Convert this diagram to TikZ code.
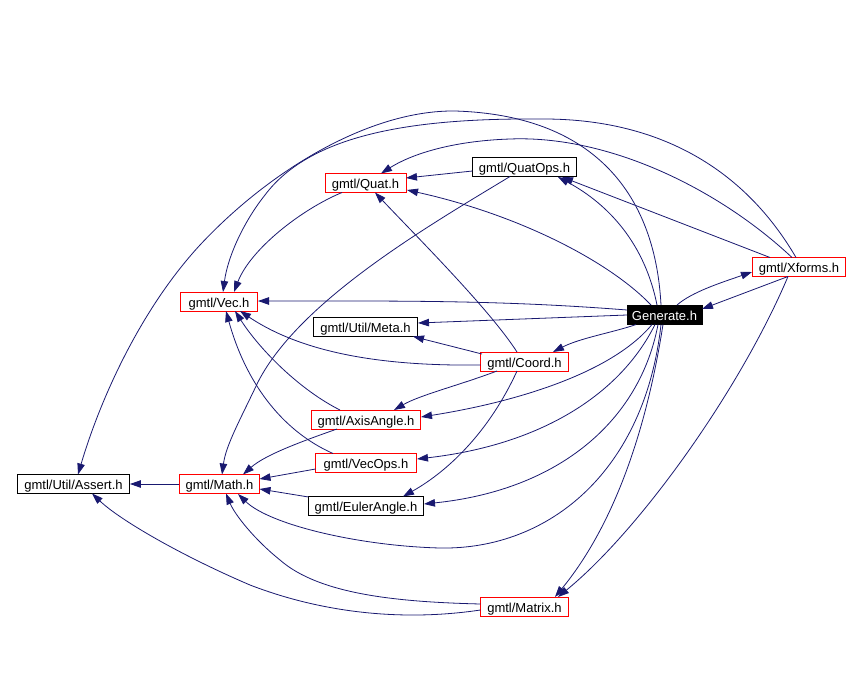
\documentclass[tikz,border=0pt]{standalone}
\usepackage{fontspec}
\setmainfont{Liberation Sans}
\usetikzlibrary{arrows.meta}
\definecolor{edgeblue}{RGB}{25,25,112}
\definecolor{boxred}{RGB}{255,0,0}
\begin{document}
\begin{tikzpicture}[x=1pt,y=-1pt,
  fbox/.style={draw, line width=0.9pt, inner sep=0pt, minimum height=19pt, text height=13pt, text depth=2pt, font=\fontsize{13}{15}\selectfont, fill=white},
  redbox/.style={fbox, draw=boxred},
  blackbox/.style={fbox, draw=black},
  mainbox/.style={fbox, draw=black, fill=black, text=white},
  dep/.style={draw=edgeblue, line width=0.8pt, -{Triangle[length=11pt,width=7.5pt]}}]
\useasboundingbox (0,0) rectangle (862,677);
% nodes
\node[mainbox, minimum width=75pt] (gen) at (664.5,314.5) {Generate.h};
\node[redbox, minimum width=93pt] (xf) at (799,267) {gmtl/Xforms.h};
\node[redbox, minimum width=81pt] (quat) at (365.5,183) {gmtl/Quat.h};
\node[blackbox, minimum width=104pt] (qops) at (524.5,167) {gmtl/QuatOps.h};
\node[redbox, minimum width=77pt] (vec) at (219,301.5) {gmtl/Vec.h};
\node[blackbox, minimum width=104pt] (meta) at (365.5,327) {gmtl/Util/Meta.h};
\node[redbox, minimum width=88pt] (coord) at (524.5,361.5) {gmtl/Coord.h};
\node[redbox, minimum width=109pt] (axis) at (366,419.5) {gmtl/AxisAngle.h};
\node[redbox, minimum width=101pt] (vops) at (366,463) {gmtl/VecOps.h};
\node[redbox, minimum width=80pt] (math) at (219.5,484) {gmtl/Math.h};
\node[blackbox, minimum width=112pt] (assert) at (73.5,484) {gmtl/Util/Assert.h};
\node[blackbox, minimum width=115pt] (euler) at (366,506) {gmtl/EulerAngle.h};
\node[redbox, minimum width=88pt] (matrix) at (524.5,607) {gmtl/Matrix.h};
% edges
\draw[dep] ([shift={(12.5,-9.5)}]gen.center) .. controls (692,292) and (720,283) .. ([shift={(-47,5)}]xf.center);
\draw[dep] ([shift={(-11,9.5)}]xf.center) -- ([shift={(37.5,-5.5)}]gen.center);
\draw[dep] ([shift={(-37.5,-4.5)}]gen.center) .. controls (500,300) and (400,301) .. ([shift={(39,-0.5)}]vec.center);
\draw[dep] ([shift={(-37.5,0.5)}]gen.center) -- ([shift={(52.5,-4)}]meta.center);
\draw[dep] ([shift={(-28.5,10)}]gen.center) .. controls (615,332) and (580,338) .. ([shift={(28.5,-9.5)}]coord.center);
\draw[dep] ([shift={(-12.5,10)}]gen.center) .. controls (610,375) and (510,403) .. ([shift={(55,-2.5)}]axis.center);
\draw[dep] ([shift={(-9.5,10)}]gen.center) .. controls (620,395) and (540,445) .. ([shift={(51,-4)}]vops.center);
\draw[dep] ([shift={(-6.5,10)}]gen.center) .. controls (640,420) and (560,490) .. ([shift={(58,-2)}]euler.center);
\draw[dep] ([shift={(-3.5,10)}]gen.center) .. controls (645,470) and (550,550) .. (440,548) .. controls (360,546) and (270,525) .. ([shift={(18.5,10)}]math.center);
\draw[dep] ([shift={(-1.5,10)}]gen.center) .. controls (645,440) and (610,530) .. ([shift={(30.5,-10)}]matrix.center);
\draw[dep] ([shift={(-13.5,-9.5)}]gen.center) .. controls (610,262) and (520,215) .. ([shift={(41.5,7)}]quat.center);
\draw[dep] ([shift={(-7.5,-9.5)}]gen.center) .. controls (645,245) and (610,205) .. ([shift={(33.5,10)}]qops.center);
\draw[dep] ([shift={(-29,-9.5)}]xf.center) -- ([shift={(37.5,10)}]qops.center);
\draw[dep] ([shift={(-3.5,-9.5)}]gen.center) .. controls (655,190) and (590,115) .. (455,111) .. controls (370,110) and (270,170) .. (200,245) .. controls (140,310) and (100,400) .. ([shift={(4.5,-9.5)}]assert.center);
\draw[dep] ([shift={(-3,-9.5)}]xf.center) .. controls (745,170) and (660,118) .. (540,119) .. controls (410,118) and (310,135) .. (265,195) .. controls (245,220) and (228,255) .. ([shift={(4,-9.5)}]vec.center);
\draw[dep] ([shift={(-7,-9.5)}]xf.center) .. controls (720,190) and (610,135) .. (510,139) .. controls (450,141) and (410,155) .. ([shift={(15.5,-9.5)}]quat.center);
\draw[dep] ([shift={(-23.5,9.5)}]quat.center) .. controls (300,210) and (250,250) .. ([shift={(15,-9.5)}]vec.center);
\draw[dep] ([shift={(-52,4)}]qops.center) -- ([shift={(40.5,-5)}]quat.center);
\draw[dep] ([shift={(-14.5,9.5)}]qops.center) .. controls (430,225) and (300,300) .. (258,382) .. controls (240,420) and (226,445) .. ([shift={(2.5,-9.5)}]math.center);
\draw[dep] ([shift={(-7.5,-9.5)}]coord.center) .. controls (490,310) and (420,240) .. ([shift={(9.5,9.5)}]quat.center);
\draw[dep] ([shift={(-42.5,-7.5)}]coord.center) -- ([shift={(47.5,9.5)}]meta.center);
\draw[dep] ([shift={(-44,3.5)}]coord.center) .. controls (400,366) and (310,358) .. ([shift={(21,9.5)}]vec.center);
\draw[dep] ([shift={(-27.5,9.5)}]coord.center) .. controls (460,385) and (420,395) .. ([shift={(28,-9.5)}]axis.center);
\draw[dep] ([shift={(-7.5,9.5)}]coord.center) .. controls (490,430) and (450,470) .. ([shift={(37,-9.5)}]euler.center);
\draw[dep] ([shift={(-33,-9.5)}]vops.center) .. controls (280,430) and (245,380) .. ([shift={(7,9.5)}]vec.center);
\draw[dep] ([shift={(-26,-9.5)}]axis.center) .. controls (300,390) and (260,350) .. ([shift={(16,9.5)}]vec.center);
\draw[dep] ([shift={(-29,9.5)}]axis.center) .. controls (300,442) and (265,455) .. ([shift={(23.5,-9.5)}]math.center);
\draw[dep] ([shift={(-50.5,6)}]vops.center) -- ([shift={(40,-5)}]math.center);
\draw[dep] ([shift={(-57.5,-9)}]euler.center) -- ([shift={(40,5)}]math.center);
\draw[dep] (math.west) -- (assert.east);
\draw[dep] ([shift={(-44,-3)}]matrix.center) .. controls (400,602) and (320,595) .. (280,560) .. controls (255,540) and (235,515) .. ([shift={(6.5,9.5)}]math.center);
\draw[dep] ([shift={(-44,3)}]matrix.center) .. controls (400,622) and (320,612) .. (250,585) .. controls (180,555) and (120,520) .. ([shift={(18.5,9.5)}]assert.center);
\draw[dep] ([shift={(-11,9.5)}]xf.center) .. controls (740,390) and (640,530) .. ([shift={(33.5,-10)}]matrix.center);
\end{tikzpicture}
\end{document}
